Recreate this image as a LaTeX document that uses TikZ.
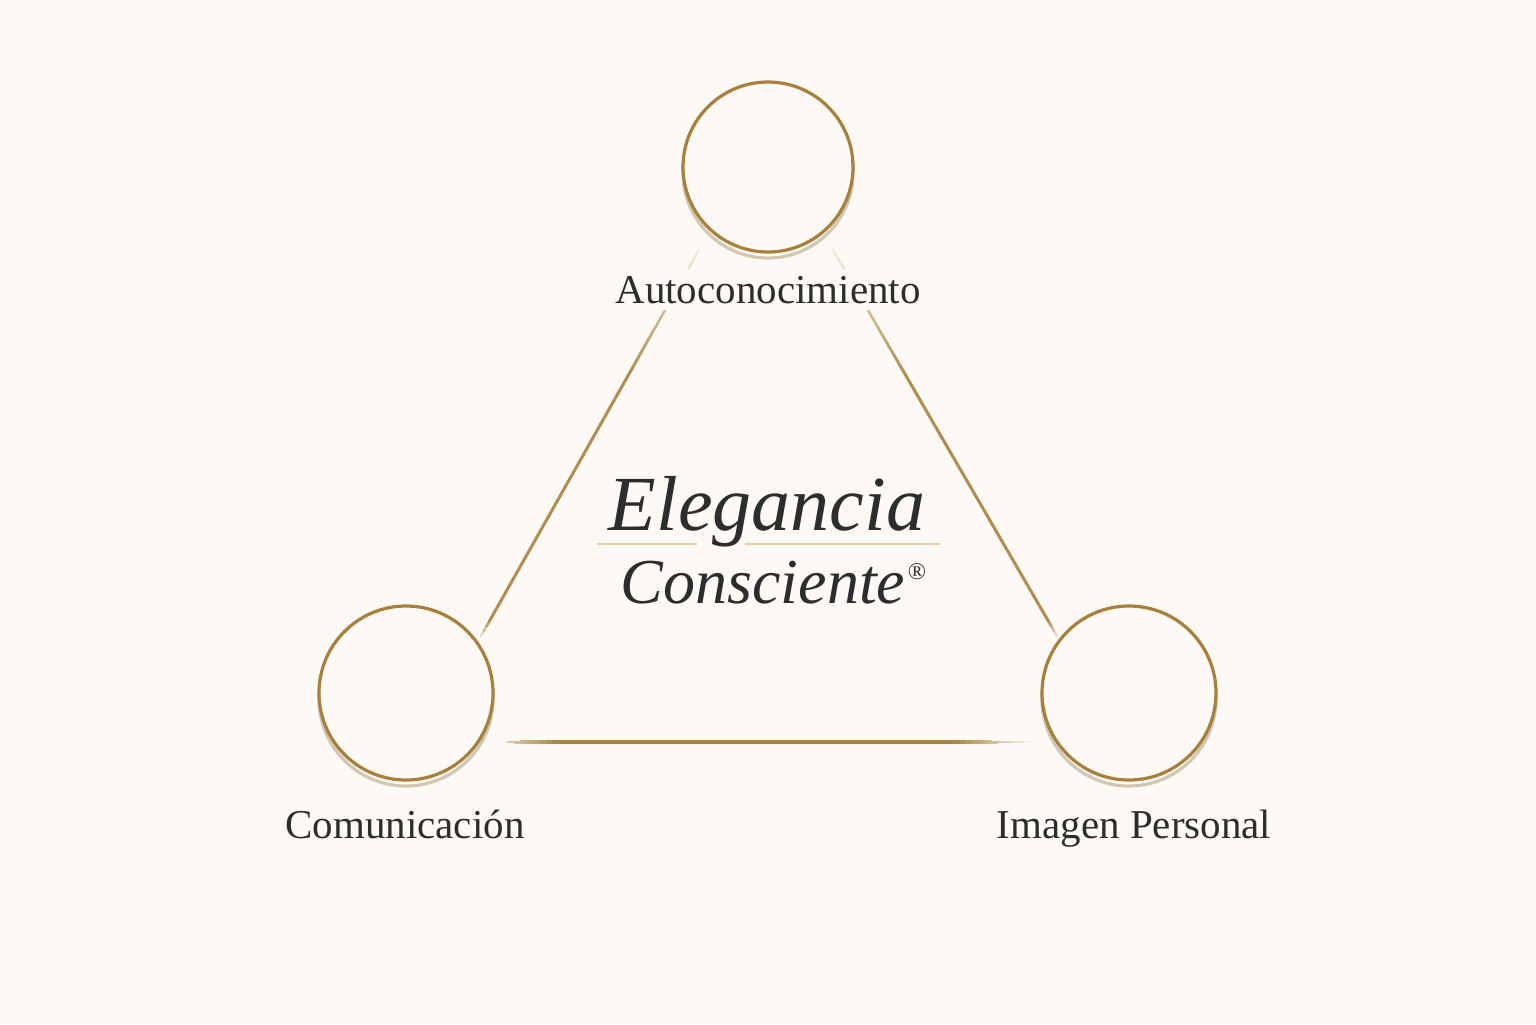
\documentclass[tikz,border=0pt]{standalone}
\usepackage{fontspec}
\setmainfont{Liberation Serif}
\usetikzlibrary{calc}
\definecolor{bg}{RGB}{253,250,245}
\definecolor{gold}{RGB}{166,128,60}
\definecolor{goldline}{RGB}{176,142,82}
\definecolor{goldbase}{RGB}{168,133,64}
\definecolor{shadowc}{RGB}{180,165,135}
\definecolor{ink}{RGB}{45,45,45}
\definecolor{divc}{RGB}{233,207,160}
\newcommand{\fadeseg}[8]{%
    \pgfmathsetmacro{\ta}{#8/80}%
    \pgfmathsetmacro{\tb}{(#8+1)/80}%
    \pgfmathsetmacro{\tm}{(#8+0.5)/80}%
    \pgfmathsetmacro{\fv}{max(0,min(1,(\tm+0.06)/#3,(1-\tm+0.01)/#4))}%
    \pgfmathtruncatemacro{\op}{100*\fv}%
    \pgfmathsetmacro{\lw}{#6+(#5-#6)*\fv}%
    \draw[line cap=round, line width=\lw pt, color=#7!\op!bg] ($(#1)!\ta!(#2)$) -- ($(#1)!\tb!(#2)$);}
\newcommand{\goldfade}[7]{%
  \foreach \i in {0,...,39}{\fadeseg{#1}{#2}{#3}{#4}{#5}{#6}{#7}{\i}}%
  \foreach \i in {79,78,...,40}{\fadeseg{#1}{#2}{#3}{#4}{#5}{#6}{#7}{\i}}}
\begin{document}
\begin{tikzpicture}[x=0.5pt,y=-0.5pt,
  ring/.style={circle, draw=gold, line width=1.6pt, fill=bg, inner sep=0pt},
  ringshadow/.style={circle, draw=shadowc, line width=1.6pt, inner sep=0pt, opacity=0.6},
  namelab/.style={font=\fontsize{20.5}{24}\selectfont, text=ink, fill=bg, inner sep=3.5pt, anchor=base},
  bigtitle/.style={font=\itshape\fontsize{39}{44}\selectfont, text=ink, anchor=base, inner sep=0pt},
  subtitle/.style={font=\itshape\fontsize{32}{36}\selectfont, text=ink, anchor=base, inner sep=0pt}]
\fill[bg] (0,0) rectangle (1536,1024);
\useasboundingbox (0,0) rectangle (1536,1024);

% circles with soft shadow
\node[ringshadow, minimum size=85pt] (st) at (768,173) {};
\node[ring, minimum size=85pt] (ct) at (768,167) {};
\node[ringshadow, minimum size=87pt] (sl) at (406,699) {};
\node[ring, minimum size=87pt] (cl) at (406,693) {};
\node[ringshadow, minimum size=87pt] (sr) at (1129,699) {};
\node[ring, minimum size=87pt] (cr) at (1129,693) {};

% connector end points
\coordinate (l1) at (699,250);
\coordinate (l2) at (481,636);
\coordinate (r1) at (833,250);
\coordinate (r2) at (1057,636);
\coordinate (b1) at (508,742);
\coordinate (b2) at (1030,742);

\goldfade{l1}{l2}{0.38}{0.05}{1.5}{0.9}{goldline}
\goldfade{r1}{r2}{0.38}{0.05}{1.5}{0.9}{goldline}
\goldfade{b1}{b2}{0.16}{0.16}{1.9}{1.1}{goldbase}

% divider
\coordinate (d1) at (597,544);
\coordinate (d2) at (697,544);
\coordinate (d3) at (745,544);
\coordinate (d4) at (940,544);
\draw[divc, line width=0.8pt] (d1) -- (d2);
\draw[divc, line width=0.8pt] (d3) -- (d4);

% labels
\node[namelab] (auto) at (768,303) {Autoconocimiento};
\node[namelab] (comu) at (405,838) {Comunicación};
\node[namelab] (imag) at (1134,838) {Imagen Personal};

% title
\node[bigtitle] (ele) at (767,530) {Elegancia};
\node[subtitle] (cons) at (763,603) {Consciente};
\node[font=\fontsize{12}{12}\selectfont, text=ink, inner sep=0pt] (reg) at (917,572) {®};
\end{tikzpicture}
\end{document}
